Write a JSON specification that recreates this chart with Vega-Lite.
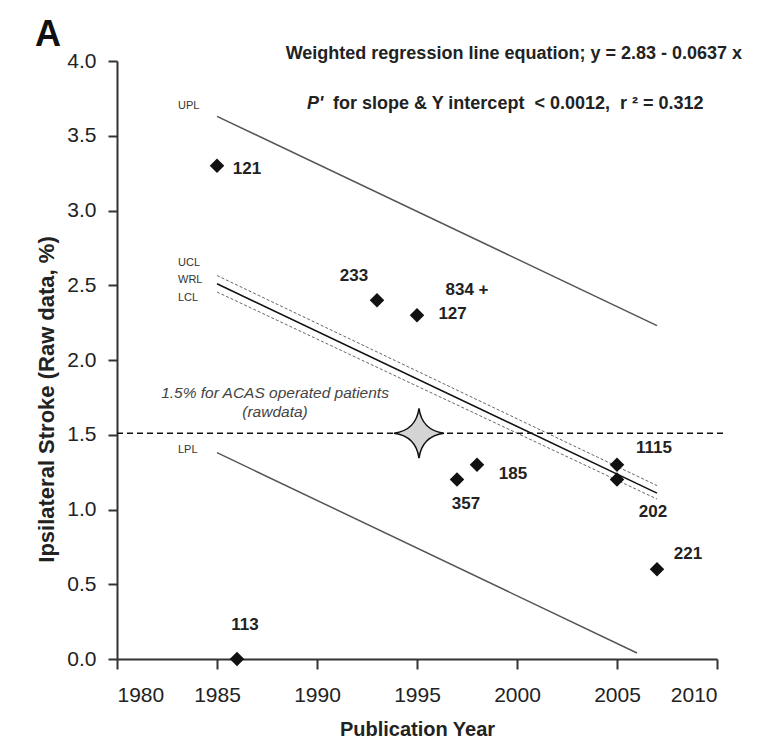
{
  "$schema": "https://vega.github.io/schema/vega-lite/v6.json",
  "width": 600,
  "height": 598,
  "autosize": {"type": "none"},
  "padding": {"left": 117, "top": 61, "right": 50, "bottom": 94},
  "background": "#ffffff",
  "config": {"view": {"stroke": null}, "font": "Liberation Sans"},
  "datasets": {
    "lines": [
      {"series": "UPL", "group": "PL", "year": 1985, "value": 3.63},
      {"series": "UPL", "group": "PL", "year": 2007, "value": 2.23},
      {"series": "LPL", "group": "PL", "year": 1985, "value": 1.38},
      {"series": "LPL", "group": "PL", "year": 2006, "value": 0.04},
      {"series": "UCL", "group": "CL", "year": 1985, "value": 2.565},
      {"series": "UCL", "group": "CL", "year": 2007, "value": 1.16},
      {"series": "LCL", "group": "CL", "year": 1985, "value": 2.455},
      {"series": "LCL", "group": "CL", "year": 2007, "value": 1.07},
      {"series": "WRL", "group": "WRL", "year": 1985, "value": 2.51},
      {"series": "WRL", "group": "WRL", "year": 2007, "value": 1.11},
      {"series": "REF", "group": "REF", "year": 1980, "value": 1.51},
      {"series": "REF", "group": "REF", "year": 2010.3, "value": 1.51}
    ],
    "points": [
      {"n": "121", "year": 1985, "value": 3.3},
      {"n": "113", "year": 1986, "value": 0.0},
      {"n": "233", "year": 1993, "value": 2.4},
      {"n": "834 + 127", "year": 1995, "value": 2.3},
      {"n": "357", "year": 1997, "value": 1.2},
      {"n": "185", "year": 1998, "value": 1.3},
      {"n": "1115", "year": 2005, "value": 1.3},
      {"n": "202", "year": 2005, "value": 1.2},
      {"n": "221", "year": 2007, "value": 0.6}
    ],
    "star": [{"label": "ACAS", "year": 1995.1, "value": 1.51}],
    "texts": [
      {"kind": "n", "text": "121", "x": 1986.5, "y": 3.28},
      {"kind": "n", "text": "233", "x": 1991.85, "y": 2.56},
      {"kind": "n", "text": "834 +", "x": 1997.5, "y": 2.47},
      {"kind": "n", "text": "127", "x": 1996.78, "y": 2.31},
      {"kind": "n", "text": "357", "x": 1997.45, "y": 1.04},
      {"kind": "n", "text": "185", "x": 1999.8, "y": 1.24},
      {"kind": "n", "text": "1115", "x": 2006.85, "y": 1.41},
      {"kind": "n", "text": "202", "x": 2006.8, "y": 0.98},
      {"kind": "n", "text": "221", "x": 2008.55, "y": 0.7},
      {"kind": "n", "text": "113", "x": 1986.4, "y": 0.23},
      {"kind": "tag", "text": "UPL", "x": 1983.05, "y": 3.7},
      {"kind": "tag", "text": "UCL", "x": 1983.05, "y": 2.65},
      {"kind": "tag", "text": "WRL", "x": 1983.05, "y": 2.535},
      {"kind": "tag", "text": "LCL", "x": 1983.05, "y": 2.415},
      {"kind": "tag", "text": "LPL", "x": 1983.05, "y": 1.4},
      {"kind": "note", "text": "1.5% for ACAS operated patients", "x": 1987.9, "y": 1.78},
      {"kind": "note", "text": "(rawdata)", "x": 1987.9, "y": 1.65},
      {"kind": "eq", "text": "Weighted regression line equation; y = 2.83 - 0.0637 x", "x": 2011.25, "y": 4.05},
      {"kind": "pit", "text": "P'", "x": 1989.5, "y": 3.71},
      {"kind": "stat", "text": "for slope & Y intercept \u00a0< 0.0012, \u00a0r \u00b2 = 0.312", "x": 1990.8, "y": 3.71},
      {"kind": "panel", "text": "A", "x": 1975.9, "y": 4.1}
    ]
  },
  "encoding": {
    "x": {
      "field": "year", "type": "quantitative",
      "scale": {"domain": [1980, 2010], "nice": false, "zero": false},
      "axis": {
        "title": "Publication Year",
        "values": [1980, 1985, 1990, 1995, 2000, 2005, 2010],
        "format": "d",
        "grid": false,
        "domainColor": "#333333", "domainWidth": 2,
        "tickColor": "#333333", "tickWidth": 2, "tickSize": 10,
        "labelFont": "Liberation Sans", "labelFontSize": 21, "labelColor": "#222222", "labelPadding": 15,
        "titleFont": "Liberation Sans", "titleFontSize": 20, "titleFontWeight": "bold", "titleColor": "#222222",
        "titleBaseline": "alphabetic", "titleY": 76, "titleX": 300
      }
    },
    "y": {
      "field": "value", "type": "quantitative",
      "scale": {"domain": [0, 4], "nice": false, "zero": false},
      "axis": {
        "title": "Ipsilateral Stroke (Raw data, %)",
        "values": [0, 0.5, 1, 1.5, 2, 2.5, 3, 3.5, 4],
        "format": ".1f",
        "grid": false,
        "domainColor": "#333333", "domainWidth": 2,
        "tickColor": "#333333", "tickWidth": 2, "tickSize": 9,
        "labelFont": "Liberation Sans", "labelFontSize": 21, "labelColor": "#222222", "labelPadding": 12,
        "titleFont": "Liberation Sans", "titleFontSize": 22, "titleFontWeight": "bold", "titleColor": "#222222",
        "titleAngle": -90, "titleAlign": "center", "titleBaseline": "alphabetic", "titleX": -64, "titleY": 338
      }
    }
  },
  "layer": [
    {
      "data": {"name": "lines"},
      "transform": [{"filter": "datum.group === 'PL'"}],
      "mark": {"type": "line", "color": "#555555", "strokeWidth": 1.5},
      "encoding": {"detail": {"field": "series"}}
    },
    {
      "data": {"name": "lines"},
      "transform": [{"filter": "datum.group === 'CL'"}],
      "mark": {"type": "line", "color": "#666666", "strokeWidth": 1, "strokeDash": [3, 2]},
      "encoding": {"detail": {"field": "series"}}
    },
    {
      "data": {"name": "lines"},
      "transform": [{"filter": "datum.group === 'WRL'"}],
      "mark": {"type": "line", "color": "#111111", "strokeWidth": 1.5},
      "encoding": {"detail": {"field": "series"}}
    },
    {
      "data": {"name": "lines"},
      "transform": [{"filter": "datum.group === 'REF'"}],
      "mark": {"type": "line", "color": "#111111", "strokeWidth": 1.5, "strokeDash": [6, 4]},
      "encoding": {"detail": {"field": "series"}}
    },
    {
      "data": {"name": "star"},
      "mark": {
        "type": "point", "filled": true, "size": 2500,
        "shape": "M0,-1 Q0.12,-0.12 1,0 Q0.12,0.12 0,1 Q-0.12,0.12 -1,0 Q-0.12,-0.12 0,-1 Z",
        "fill": "#d4d4d4", "stroke": "#111111", "strokeWidth": 1.5, "opacity": 1, "fillOpacity": 1
      }
    },
    {
      "data": {"name": "points"},
      "mark": {"type": "point", "shape": "diamond", "filled": true, "size": 210, "color": "#111111", "opacity": 1}
    },
    {
      "data": {"name": "texts"},
      "transform": [{"filter": "datum.kind === 'n'"}],
      "mark": {"type": "text", "font": "Liberation Sans", "fontSize": 17, "fontWeight": "bold", "color": "#222222", "align": "center", "baseline": "middle"},
      "encoding": {
        "x": {"field": "x", "type": "quantitative"},
        "y": {"field": "y", "type": "quantitative"},
        "text": {"field": "text"}
      }
    },
    {
      "data": {"name": "texts"},
      "transform": [{"filter": "datum.kind === 'tag'"}],
      "mark": {"type": "text", "font": "Liberation Sans", "fontSize": 11, "color": "#333333", "align": "left", "baseline": "middle"},
      "encoding": {
        "x": {"field": "x", "type": "quantitative"},
        "y": {"field": "y", "type": "quantitative"},
        "text": {"field": "text"}
      }
    },
    {
      "data": {"name": "texts"},
      "transform": [{"filter": "datum.kind === 'note'"}],
      "mark": {"type": "text", "font": "Liberation Sans", "fontSize": 15.5, "fontStyle": "italic", "color": "#444444", "align": "center", "baseline": "middle"},
      "encoding": {
        "x": {"field": "x", "type": "quantitative"},
        "y": {"field": "y", "type": "quantitative"},
        "text": {"field": "text"}
      }
    },
    {
      "data": {"name": "texts"},
      "transform": [{"filter": "datum.kind === 'eq'"}],
      "mark": {"type": "text", "font": "Liberation Sans", "fontSize": 18, "fontWeight": "bold", "color": "#222222", "align": "right", "baseline": "middle"},
      "encoding": {
        "x": {"field": "x", "type": "quantitative"},
        "y": {"field": "y", "type": "quantitative"},
        "text": {"field": "text"}
      }
    },
    {
      "data": {"name": "texts"},
      "transform": [{"filter": "datum.kind === 'pit'"}],
      "mark": {"type": "text", "font": "Liberation Sans", "fontSize": 18, "fontWeight": "bold", "fontStyle": "italic", "color": "#222222", "align": "left", "baseline": "middle"},
      "encoding": {
        "x": {"field": "x", "type": "quantitative"},
        "y": {"field": "y", "type": "quantitative"},
        "text": {"field": "text"}
      }
    },
    {
      "data": {"name": "texts"},
      "transform": [{"filter": "datum.kind === 'stat'"}],
      "mark": {"type": "text", "font": "Liberation Sans", "fontSize": 18, "fontWeight": "bold", "color": "#222222", "align": "left", "baseline": "middle"},
      "encoding": {
        "x": {"field": "x", "type": "quantitative"},
        "y": {"field": "y", "type": "quantitative"},
        "text": {"field": "text"}
      }
    },
    {
      "data": {"name": "texts"},
      "transform": [{"filter": "datum.kind === 'panel'"}],
      "mark": {"type": "text", "font": "Liberation Sans", "fontSize": 36, "fontWeight": "bold", "color": "#111111", "align": "left", "baseline": "alphabetic"},
      "encoding": {
        "x": {"field": "x", "type": "quantitative"},
        "y": {"field": "y", "type": "quantitative"},
        "text": {"field": "text"}
      }
    }
  ]
}
